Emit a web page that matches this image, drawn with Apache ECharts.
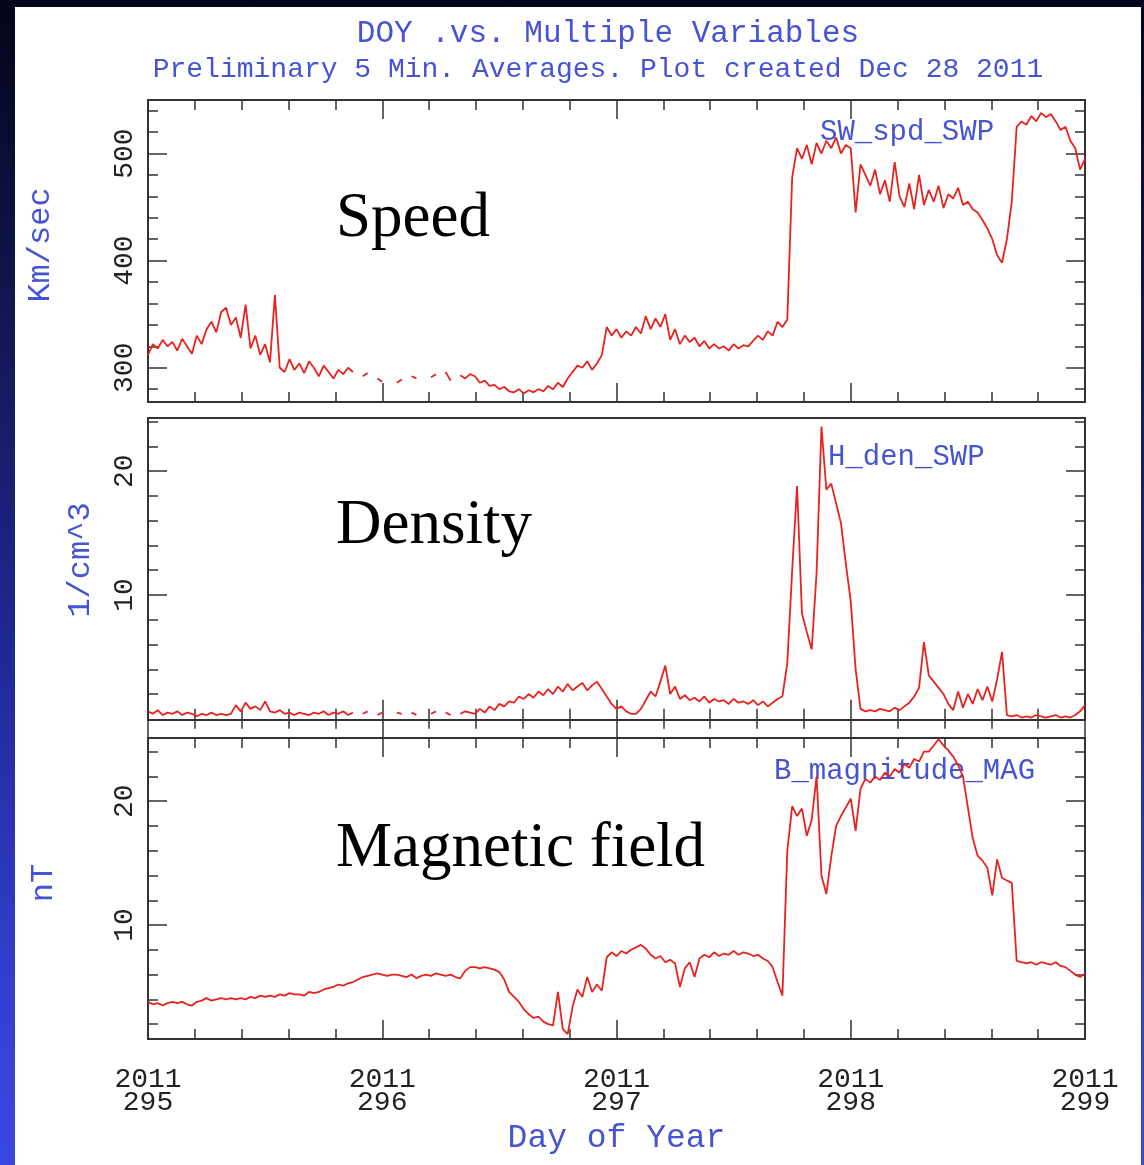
<!DOCTYPE html>
<html><head><meta charset="utf-8">
<script src="https://cdn.jsdelivr.net/npm/echarts@6/dist/echarts.min.js"></script>
<style>
html,body{margin:0;padding:0;}
body{width:1144px;height:1165px;overflow:hidden;background:linear-gradient(to bottom,#04041a 0%,#10164e 25%,#1e2892 55%,#3240d0 85%,#3a48e2 100%);}
#chart{width:1144px;height:1165px;}
</style></head><body><div id="chart"></div>
<script>
const startDay = 295;
const stepDays = 1 / 48;
const dayMin = 295, dayMax = 299;
const yearLabel = '2011';

const speedRange = [268, 550];
const speedMajor = [300, 400, 500];
const speedMinor = [280, 300, 320, 340, 360, 380, 400, 420, 440, 460, 480, 500, 520, 540];
const speedLabels = [300, 400, 500];

const densityRange = [-0.1, 24.3];
const densityMajor = [10, 20];
const densityMinor = [2, 4, 6, 8, 10, 12, 14, 16, 18, 20, 22, 24];
const densityLabels = [10, 20];

const magRange = [0.8, 25.1];
const magMajor = [10, 20];
const magMinor = [2, 4, 6, 8, 10, 12, 14, 16, 18, 20, 22, 24];
const magLabels = [10, 20];

const speed = [
312,322,318,326,320,324,316,327,320,313,
330,322,336,343,333,352,356,340,347,328,
359,318,330,312,322,305,368,300,296,308,
298,304,295,306,300,292,302,296,290,298,
294,300,296,null,292,295,null,290,287,null,
null,286,289,null,292,290,null,null,291,294,
null,296,288,null,293,290,294,292,286,288,
283,284,280,282,278,277,280,276,279,277,
280,278,283,280,286,282,290,296,302,300,
306,298,304,312,338,330,336,328,334,330,
338,332,348,336,346,338,350,326,336,322,
330,324,328,320,325,318,322,318,320,316,
322,318,321,320,325,330,326,334,330,343,
338,345,478,505,495,508,490,510,500,512,
505,515,500,508,505,445,490,480,470,485,
462,475,455,492,460,450,472,448,480,452,
466,455,470,449,462,458,468,452,455,448,
445,438,430,420,405,398,420,455,525,530,
527,535,530,538,534,537,530,522,525,512,
505,485,495
];

const density = [
0.6,0.4,0.7,0.3,0.5,0.4,0.6,0.3,0.5,0.4,
0.2,0.4,0.3,0.5,0.3,0.4,0.3,0.4,1.1,0.6,
1.3,0.8,1.0,0.7,1.4,0.6,0.5,0.7,0.4,0.5,
0.3,0.5,0.4,0.3,0.5,0.4,0.6,0.3,0.5,0.4,
0.6,0.3,0.5,null,0.4,0.6,null,0.3,0.5,null,
null,0.5,0.4,null,0.5,0.3,null,null,0.4,0.6,
null,0.5,0.3,null,0.4,0.6,0.5,0.4,0.8,0.5,
1.0,0.7,1.2,1.0,1.4,1.3,1.8,1.6,2.0,1.7,
2.2,1.9,2.4,2.0,2.6,2.2,2.8,2.3,2.6,2.9,
2.3,2.7,3.0,2.4,1.8,1.2,0.8,1.0,0.6,0.4,
0.4,0.8,1.5,2.2,1.8,3.0,4.3,2.0,2.6,1.6,
1.9,1.5,1.7,1.4,1.8,1.3,1.6,1.4,1.5,1.2,
1.6,1.3,1.4,1.2,1.5,1.1,1.4,1.0,1.3,1.6,
1.8,4.5,12.0,18.8,8.5,7.0,5.6,11.8,23.6,18.5,
19.0,17.4,15.8,12.5,9.5,4.0,0.8,0.6,0.7,0.6,
0.8,0.7,0.6,0.9,0.7,1.0,1.3,1.8,2.5,6.2,
3.5,3.0,2.5,2.0,1.2,0.7,2.2,0.9,2.0,1.2,
2.4,1.5,2.6,1.4,3.2,5.4,0.3,0.2,0.3,0.1,
0.2,0.1,0.3,0.2,0.1,0.2,0.3,0.1,0.2,0.1,
0.3,0.6,1.1
];

const bmag = [
3.8,3.6,3.7,3.5,3.7,3.8,3.7,3.8,3.6,3.5,
3.8,3.9,4.1,3.9,4.0,4.1,4.0,4.1,4.0,4.1,
4.0,4.2,4.1,4.3,4.2,4.3,4.2,4.4,4.3,4.5,
4.4,4.4,4.3,4.6,4.5,4.6,4.8,4.9,5.0,5.2,
5.1,5.3,5.4,5.6,5.8,5.9,6.0,6.1,6.0,5.9,
6.0,6.0,5.9,5.8,6.0,5.7,5.9,6.0,5.9,6.1,
6.0,5.9,6.0,5.8,5.7,6.3,6.6,6.6,6.5,6.6,
6.5,6.4,6.2,5.6,4.6,4.2,3.8,3.2,2.8,2.5,
2.6,2.2,2.0,1.9,4.6,1.6,1.2,3.4,4.8,4.2,
5.8,4.6,5.2,4.7,7.4,7.8,7.5,7.9,7.7,8.0,
8.2,8.4,8.1,7.6,7.3,7.5,7.0,7.2,6.9,5.0,
6.5,7.0,5.8,7.3,7.6,7.4,7.8,7.5,7.7,7.6,
7.9,7.6,7.8,7.7,7.5,7.6,7.3,7.1,6.6,5.4,
4.3,16.0,19.6,18.8,19.4,17.2,18.5,22.0,14.0,12.5,
15.5,18.0,18.8,19.5,20.2,17.6,21.0,21.8,21.5,22.0,
21.7,22.3,22.0,22.6,22.3,23.0,22.7,23.4,23.2,24.0,
24.0,24.5,25.0,24.5,24.1,23.6,22.9,22.0,19.5,17.0,
15.6,15.2,14.6,12.4,15.3,13.8,13.6,13.4,7.1,7.0,
6.9,7.0,6.8,7.0,6.9,6.8,7.0,6.7,6.6,6.3,
6.0,5.8,6.1
];

// ---- chart ----
const MONO = '"Liberation Mono","DejaVu Sans Mono",monospace';
const BLUE = '#4654d4';
const TICK = { color: '#333', width: 1.5 };
const pairs = arr => arr.map((v, i) => [startDay + i * stepDays, v == null ? '-' : v]);

const grids = [
  { left: 148, top: 100, width: 937, height: 302 },
  { left: 148, top: 418, width: 937, height: 302 },
  { left: 148, top: 738, width: 937, height: 301 }
].map(g => Object.assign(g, { show: true, borderColor: '#333', borderWidth: 2, backgroundColor: 'transparent', outerBoundsMode: 'none' }));

function xAxesFor(gi, withLabels) {
  const base = {
    type: 'value', gridIndex: gi, min: dayMin, max: dayMax, interval: 1,
    splitLine: { show: false }, axisLine: { show: false },
    axisTick: { show: true, inside: true, length: 19, lineStyle: TICK },
    minorTick: { show: true, splitNumber: 5, length: 10, lineStyle: TICK },
    minorSplitLine: { show: false }
  };
  const bottom = Object.assign({}, base, { position: 'bottom' });
  if (withLabels) {
    bottom.axisLabel = {
      show: true, margin: 29, fontFamily: MONO, fontSize: 28, color: '#222', lineHeight: 23,
      formatter: v => yearLabel + '\n' + v
    };
    bottom.name = 'Day of Year';
    bottom.nameLocation = 'middle';
    bottom.nameGap = 83;
    bottom.nameTextStyle = { fontFamily: MONO, fontSize: 33, color: BLUE };
  } else {
    bottom.axisLabel = { show: false };
  }
  const top = Object.assign({}, base, { position: 'top', axisLabel: { show: false } });
  return [bottom, top];
}

function yAxesFor(gi, range, major, minor, labels, name, nameGap, namePad) {
  const base = { type: 'value', gridIndex: gi, min: range[0], max: range[1], splitLine: { show: false }, axisLine: { show: false } };
  const tickMajor = { show: true, inside: true, length: 19, customValues: major, lineStyle: TICK };
  const tickMinor = { show: true, inside: true, length: 10, customValues: minor, lineStyle: TICK };
  return [
    Object.assign({}, base, {
      position: 'left', name, nameLocation: 'middle', nameGap,
      nameTextStyle: { fontFamily: MONO, fontSize: 32, color: BLUE, padding: [0, 0, 0, namePad] },
      axisTick: tickMajor,
      axisLabel: { show: true, customValues: labels, rotate: 90, margin: 9, fontFamily: MONO, fontSize: 28, color: '#222' }
    }),
    Object.assign({}, base, { position: 'left', axisTick: tickMinor, axisLabel: { show: false } }),
    Object.assign({}, base, { position: 'right', axisTick: tickMajor, axisLabel: { show: false } }),
    Object.assign({}, base, { position: 'right', axisTick: tickMinor, axisLabel: { show: false } })
  ];
}

const xAxis = [].concat(xAxesFor(0, false), xAxesFor(1, false), xAxesFor(2, true));
const yAxis = [].concat(
  yAxesFor(0, speedRange, speedMajor, speedMinor, speedLabels, 'Km/sec', 91, 12),
  yAxesFor(1, densityRange, densityMajor, densityMinor, densityLabels, '1/cm^3', 51, 18),
  yAxesFor(2, magRange, magMajor, magMinor, magLabels, 'nT', 88, 11)
);

function lineSeries(name, data, xi, yi) {
  return {
    name, type: 'line', xAxisIndex: xi, yAxisIndex: yi, data: pairs(data),
    showSymbol: false, symbol: 'none', connectNulls: false, silent: true,
    lineStyle: { color: '#e8231f', width: 1.8 }
  };
}

const txt = (text, x, y, font, fill, align) => ({
  type: 'text', x, y, silent: true,
  style: { text, font, fill, align: align || 'left', verticalAlign: 'middle' }
});

const option = {
  animation: false,
  backgroundColor: 'transparent',
  grid: grids,
  xAxis, yAxis,
  series: [
    lineSeries('SW_spd_SWP', speed, 0, 0),
    lineSeries('H_den_SWP', density, 2, 4),
    lineSeries('B_magnitude_MAG', bmag, 4, 8)
  ],
  graphic: [
    { type: 'rect', z: -10, silent: true, shape: { x: 15, y: 7, width: 1126, height: 1158 }, style: { fill: '#ffffff' } },
    txt('DOY .vs. Multiple Variables', 608, 34, '31px ' + MONO, BLUE, 'center'),
    txt('Preliminary 5 Min. Averages. Plot created Dec 28 2011', 598, 70, '28px ' + MONO, BLUE, 'center'),
    txt('SW_spd_SWP', 820, 132, '29px ' + MONO, BLUE),
    txt('H_den_SWP', 828, 457, '29px ' + MONO, BLUE),
    txt('B_magnitude_MAG', 774, 771, '29px ' + MONO, BLUE),
    txt('Speed', 336, 219, '63px "Liberation Serif","Times New Roman",serif', '#000'),
    txt('Density', 336, 526, '63px "Liberation Serif","Times New Roman",serif', '#000'),
    txt('Magnetic field', 336, 849, '63px "Liberation Serif","Times New Roman",serif', '#000')
  ]
};

const chart = echarts.init(document.getElementById('chart'), null, { renderer: 'canvas' });
chart.setOption(option);
</script>
</body></html>
